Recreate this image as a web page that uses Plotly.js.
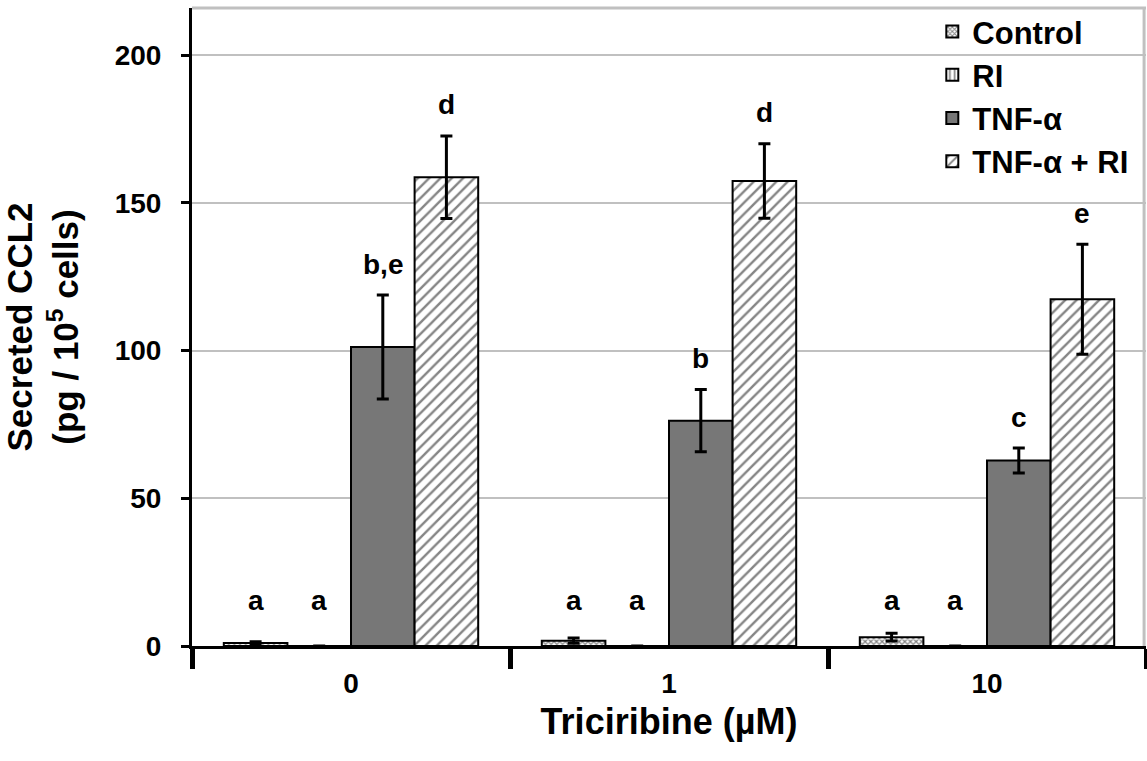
<!DOCTYPE html>
<html>
<head>
<meta charset="utf-8">
<script src="https://cdn.plot.ly/plotly-3.0.1.min.js"></script>
<style>html,body{margin:0;padding:0;background:#fff;}#chart{width:1147px;height:761px;}</style>
</head>
<body>
<div id="chart"></div>
<script>
// ---- data ----
const categories = ['0', '1', '10'];
const seriesNames = ['Control', 'RI', 'TNF-α', 'TNF-α + RI'];
const controlValues = [1.0, 1.8, 3.0];
const controlErrors = [0.4, 0.9, 1.3];
const riValues = [0, 0, 0];
const riErrors = [0, 0, 0];
const tnfValues = [101.2, 76.3, 62.8];
const tnfErrors = [17.6, 10.5, 4.2];
const tnfRiValues = [158.7, 157.4, 117.4];
const tnfRiErrors = [14.0, 12.6, 18.6];
const controlLetters = ['a', 'a', 'a'];
const riLetters = ['a', 'a', 'a'];
const tnfLetters = ['b,e', 'b', 'c'];
const tnfRiLetters = ['d', 'd', 'e'];
const yTicks = [0, 50, 100, 150, 200];

// ---- styling ----
const FONT = 'Liberation Sans, Arial, sans-serif';
const seriesData = [
  {name: seriesNames[0], v: controlValues, e: controlErrors, l: controlLetters,
   marker: {color: '#ffffff', line: {color: '#000', width: 2}, pattern: {shape: 'x', fgcolor: '#808080', bgcolor: '#ffffff', size: 4, solidity: 0.5}}},
  {name: seriesNames[1], v: riValues, e: riErrors, l: riLetters,
   marker: {color: '#ffffff', line: {color: '#000', width: 2}, pattern: {shape: '|', fgcolor: '#808080', bgcolor: '#ffffff', size: 6, solidity: 0.35}}},
  {name: seriesNames[2], v: tnfValues, e: tnfErrors, l: tnfLetters,
   marker: {color: '#777777', line: {color: '#000', width: 2}}},
  {name: seriesNames[3], v: tnfRiValues, e: tnfRiErrors, l: tnfRiLetters,
   marker: {color: '#ffffff', line: {color: '#000', width: 2}, pattern: {shape: '/', fgcolor: '#858585', bgcolor: '#ffffff', size: 8, solidity: 0.3}}}
];

const traces = seriesData.map(s => ({
  type: 'bar', name: s.name, x: categories, y: s.v,
  marker: s.marker,
  error_y: {type: 'data', array: s.e, visible: true, color: '#000', thickness: 3, width: 6}
}));

const nS = seriesData.length;
const bargap = 0.2;
const barW = (1 - bargap) / nS;
const annotations = [];
seriesData.forEach((s, si) => {
  const off = -((1 - bargap) / 2) + barW * (si + 0.5);
  s.l.forEach((txt, ci) => {
    const top = Math.max(s.v[ci] + s.e[ci], 5);
    annotations.push({
      x: ci + off, y: top, xref: 'x', yref: 'y', text: txt, showarrow: false,
      yanchor: 'middle', yshift: 31,
      font: {family: FONT, size: 28, color: '#000', weight: 'bold'}
    });
  });
});

const layout = {
  width: 1147, height: 761,
  margin: {l: 192, r: 1, t: 8, b: 115},
  paper_bgcolor: '#ffffff', plot_bgcolor: '#ffffff',
  barmode: 'group', bargap: bargap, bargroupgap: 0,
  showlegend: true,
  legend: {x: 0.776, xanchor: 'left', y: 1.005, yanchor: 'top', bgcolor: 'rgba(0,0,0,0)', borderwidth: 0,
           font: {family: FONT, size: 31, color: '#000', weight: 'bold'}, itemwidth: 30},
  xaxis: {
    type: 'category', tickson: 'boundaries', ticks: 'outside', ticklen: 20, tickwidth: 5, tickcolor: '#000',
    showline: true, linecolor: '#000', linewidth: 3, showgrid: false, zeroline: false,
    ticklabelstandoff: 10,
    tickfont: {family: FONT, size: 28, color: '#000', weight: 'bold'},
    title: {text: 'Triciribine (µM)', standoff: 12, font: {family: FONT, size: 36, color: '#000', weight: 'bold'}},
    automargin: false
  },
  yaxis: {
    range: [0, 216], tickvals: yTicks, ticks: 'outside', ticklen: 8, tickwidth: 3, tickcolor: '#000',
    showline: true, linecolor: '#000', linewidth: 3, showgrid: true, gridcolor: '#c0c0c0', gridwidth: 2,
    zeroline: false, ticklabelstandoff: 14,
    tickfont: {family: FONT, size: 28, color: '#000', weight: 'bold'},
    title: {text: 'Secreted CCL2<br>(pg / 10<sup>5</sup> cells)', standoff: 26, font: {family: FONT, size: 35, color: '#000', weight: 'bold'}},
    automargin: false
  },
  shapes: [
    {type: 'line', xref: 'paper', yref: 'paper', x0: 0, x1: 1, y0: 1, y1: 1, line: {color: '#c0c0c0', width: 3}},
    {type: 'line', xref: 'paper', yref: 'paper', x0: 0.998, x1: 0.998, y0: 0, y1: 1, line: {color: '#c0c0c0', width: 3}}
  ],
  annotations: annotations
};

Plotly.newPlot('chart', traces, layout, {displayModeBar: false, staticPlot: true});
</script>
</body>
</html>
